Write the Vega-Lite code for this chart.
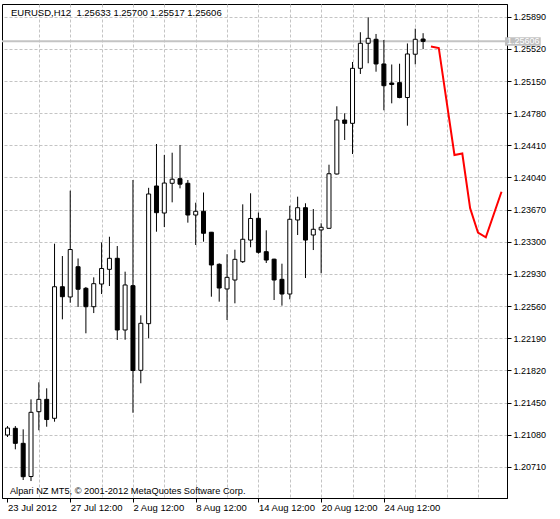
{
  "$schema": "https://vega.github.io/schema/vega-lite/v6.json",
  "width": 505,
  "height": 494,
  "autosize": {"type": "none"},
  "padding": {"left": 2, "top": 4, "right": 53, "bottom": 21},
  "background": "white",
  "config": {
    "view": {"stroke": "#000000", "strokeWidth": 1},
    "font": "Liberation Sans",
    "text": {"font": "Liberation Sans", "fontSize": 10},
    "axis": {
      "title": null,
      "grid": true,
      "gridColor": "#c4c4c4",
      "gridDash": [3, 2],
      "gridWidth": 1,
      "tickColor": "#000000",
      "tickSize": 4,
      "tickWidth": 1,
      "tickCount": 100,
      "domainColor": "#000000",
      "labelFont": "Liberation Sans",
      "labelFontSize": 9.5,
      "labelColor": "#000000",
      "labelOverlap": false,
      "labelBound": false,
      "labelFlush": false,
      "zindex": 0
    }
  },
  "datasets": {
    "candles": [
      {"bar": 0, "open": 1.21077, "high": 1.21180, "low": 1.21054, "close": 1.21157},
      {"bar": 1, "open": 1.21154, "high": 1.21180, "low": 1.20912, "close": 1.20981},
      {"bar": 2, "open": 1.20981, "high": 1.21142, "low": 1.20559, "close": 1.20597},
      {"bar": 3, "open": 1.20599, "high": 1.21487, "low": 1.20547, "close": 1.21338},
      {"bar": 4, "open": 1.21345, "high": 1.21683, "low": 1.21131, "close": 1.21487},
      {"bar": 5, "open": 1.21487, "high": 1.21614, "low": 1.21172, "close": 1.21255},
      {"bar": 6, "open": 1.21269, "high": 1.23278, "low": 1.21230, "close": 1.22783},
      {"bar": 7, "open": 1.22783, "high": 1.23136, "low": 1.22408, "close": 1.22668},
      {"bar": 8, "open": 1.22665, "high": 1.23888, "low": 1.22599, "close": 1.23211},
      {"bar": 9, "open": 1.23013, "high": 1.23108, "low": 1.22550, "close": 1.22754},
      {"bar": 10, "open": 1.22765, "high": 1.22780, "low": 1.22247, "close": 1.22553},
      {"bar": 11, "open": 1.22553, "high": 1.22891, "low": 1.22480, "close": 1.22818},
      {"bar": 12, "open": 1.22814, "high": 1.23292, "low": 1.22699, "close": 1.22993},
      {"bar": 13, "open": 1.22983, "high": 1.23358, "low": 1.22791, "close": 1.23110},
      {"bar": 14, "open": 1.23110, "high": 1.23251, "low": 1.22170, "close": 1.22285},
      {"bar": 15, "open": 1.22285, "high": 1.22956, "low": 1.22173, "close": 1.22803},
      {"bar": 16, "open": 1.22795, "high": 1.24011, "low": 1.21333, "close": 1.21819},
      {"bar": 17, "open": 1.21821, "high": 1.22454, "low": 1.21672, "close": 1.22362},
      {"bar": 18, "open": 1.22358, "high": 1.23921, "low": 1.22189, "close": 1.23850},
      {"bar": 19, "open": 1.23942, "high": 1.24425, "low": 1.23416, "close": 1.23635},
      {"bar": 20, "open": 1.23631, "high": 1.24299, "low": 1.23470, "close": 1.23976},
      {"bar": 21, "open": 1.23973, "high": 1.24325, "low": 1.23754, "close": 1.24020},
      {"bar": 22, "open": 1.24026, "high": 1.24414, "low": 1.23915, "close": 1.23963},
      {"bar": 23, "open": 1.23973, "high": 1.24011, "low": 1.23520, "close": 1.23608},
      {"bar": 24, "open": 1.23608, "high": 1.23750, "low": 1.23263, "close": 1.23651},
      {"bar": 25, "open": 1.23651, "high": 1.23867, "low": 1.23301, "close": 1.23398},
      {"bar": 26, "open": 1.23410, "high": 1.23413, "low": 1.22668, "close": 1.23033},
      {"bar": 27, "open": 1.23041, "high": 1.23052, "low": 1.22611, "close": 1.22768},
      {"bar": 28, "open": 1.22757, "high": 1.23157, "low": 1.22400, "close": 1.22891},
      {"bar": 29, "open": 1.22860, "high": 1.23209, "low": 1.22592, "close": 1.23098},
      {"bar": 30, "open": 1.23071, "high": 1.23731, "low": 1.23056, "close": 1.23329},
      {"bar": 31, "open": 1.23320, "high": 1.23858, "low": 1.23237, "close": 1.23568},
      {"bar": 32, "open": 1.23570, "high": 1.23637, "low": 1.23163, "close": 1.23179},
      {"bar": 33, "open": 1.23186, "high": 1.23432, "low": 1.23056, "close": 1.23090},
      {"bar": 34, "open": 1.23100, "high": 1.23105, "low": 1.22630, "close": 1.22860},
      {"bar": 35, "open": 1.22868, "high": 1.23048, "low": 1.22565, "close": 1.22699},
      {"bar": 36, "open": 1.22699, "high": 1.23714, "low": 1.22638, "close": 1.23559},
      {"bar": 37, "open": 1.23551, "high": 1.23819, "low": 1.23378, "close": 1.23692},
      {"bar": 38, "open": 1.23692, "high": 1.23743, "low": 1.22883, "close": 1.23320},
      {"bar": 39, "open": 1.23378, "high": 1.23677, "low": 1.23205, "close": 1.23444},
      {"bar": 40, "open": 1.23436, "high": 1.23513, "low": 1.22937, "close": 1.23467},
      {"bar": 41, "open": 1.23455, "high": 1.24187, "low": 1.23453, "close": 1.24083},
      {"bar": 42, "open": 1.24080, "high": 1.24859, "low": 1.24074, "close": 1.24701},
      {"bar": 43, "open": 1.24701, "high": 1.24778, "low": 1.24471, "close": 1.24663},
      {"bar": 44, "open": 1.24663, "high": 1.25369, "low": 1.24310, "close": 1.25296},
      {"bar": 45, "open": 1.25296, "high": 1.25711, "low": 1.25231, "close": 1.25584},
      {"bar": 46, "open": 1.25584, "high": 1.25883, "low": 1.25354, "close": 1.25641},
      {"bar": 47, "open": 1.25630, "high": 1.25691, "low": 1.25257, "close": 1.25346},
      {"bar": 48, "open": 1.25346, "high": 1.25622, "low": 1.24813, "close": 1.25096},
      {"bar": 49, "open": 1.25127, "high": 1.25340, "low": 1.24893, "close": 1.25110},
      {"bar": 50, "open": 1.25131, "high": 1.25349, "low": 1.24951, "close": 1.24960},
      {"bar": 51, "open": 1.24960, "high": 1.25582, "low": 1.24636, "close": 1.25461},
      {"bar": 52, "open": 1.25458, "high": 1.25752, "low": 1.25342, "close": 1.25630},
      {"bar": 53, "open": 1.25633, "high": 1.25700, "low": 1.25517, "close": 1.25606}
    ],
    "forecast": [
      {"bar": 54, "price": 1.25547},
      {"bar": 55, "price": 1.25530},
      {"bar": 57, "price": 1.24299},
      {"bar": 58, "price": 1.24316},
      {"bar": 59, "price": 1.23685},
      {"bar": 60, "price": 1.23405},
      {"bar": 61, "price": 1.23352},
      {"bar": 63, "price": 1.23876}
    ],
    "header": [{"label": "EURUSD,H12 \u00a01.25633 1.25700 1.25517 1.25606"}],
    "footer": [{"label": "Alpari NZ MT5, © 2001-2012 MetaQuotes Software Corp."}],
    "last": [{"price": 1.25606, "label": "1.25606"}]
  },
  "layer": [
    {
      "data": {"name": "last"},
      "mark": {"type": "rule", "color": "#c4c4c4", "strokeWidth": 2},
      "encoding": {
        "y": {
          "field": "price",
          "type": "quantitative",
          "scale": {"domain": [1.20352, 1.26036], "zero": false, "nice": false},
          "axis": {"orient": "right", "values": [1.2071, 1.2108, 1.2145, 1.2182, 1.2219, 1.2256, 1.2293, 1.233, 1.2367, 1.2404, 1.2441, 1.2478, 1.2515, 1.2552, 1.2589], "tickCount": 100, "format": ".5f", "labelPadding": 2, "labelFontSize": 9, "labelBaseline": "middle", "labelOverlap": false}
        }
      }
    },
    {
      "data": {"name": "candles"},
      "mark": {"type": "rule", "color": "#000000", "strokeWidth": 1, "clip": true},
      "encoding": {
        "x": {
          "field": "bar",
          "type": "quantitative",
          "scale": {"domain": [-0.0625, 63.0625], "zero": false, "nice": false},
          "axis": {
            "orient": "bottom",
            "values": [0, 4, 8, 12, 16, 20, 24, 28, 32, 36, 40, 44, 48, 52, 56, 60],
            "tickCount": 100,
            "gridOpacity": {"condition": {"test": "datum.value == 0", "value": 0}, "value": 1},
            "tickOpacity": {"condition": {"test": "datum.value % 8 == 0 && datum.value <= 48", "value": 1}, "value": 0},
            "labelExpr": "datum.value == 0 ? '23 Jul 2012' : datum.value == 8 ? '27 Jul 12:00' : datum.value == 16 ? '2 Aug 12:00' : datum.value == 24 ? '8 Aug 12:00' : datum.value == 32 ? '14 Aug 12:00' : datum.value == 40 ? '20 Aug 12:00' : datum.value == 48 ? '24 Aug 12:00' : ''",
            "labelAlign": "left",
            "labelBaseline": "top",
            "labelPadding": 0,
            "labelOverlap": false
          }
        },
        "y": {"field": "low", "type": "quantitative"},
        "y2": {"field": "high"}
      }
    },
    {
      "data": {"name": "candles"},
      "mark": {"type": "bar", "size": 4, "stroke": "#000000", "strokeWidth": 1, "clip": true, "orient": "vertical"},
      "encoding": {
        "x": {"field": "bar", "type": "quantitative"},
        "y": {"field": "open", "type": "quantitative"},
        "y2": {"field": "close"},
        "fill": {"condition": {"test": "datum.close >= datum.open", "value": "#ffffff"}, "value": "#000000"}
      }
    },
    {
      "data": {"name": "forecast"},
      "mark": {"type": "line", "color": "#ff0000", "strokeWidth": 2, "clip": true},
      "encoding": {
        "x": {"field": "bar", "type": "quantitative"},
        "y": {"field": "price", "type": "quantitative"}
      }
    },
    {
      "data": {"name": "header"},
      "mark": {"type": "text", "align": "left", "baseline": "alphabetic", "color": "#000000", "fontSize": 9.5},
      "encoding": {
        "x": {"datum": 0.44},
        "y": {"datum": 1.25898},
        "text": {"field": "label"}
      }
    },
    {
      "data": {"name": "footer"},
      "mark": {"type": "text", "align": "left", "baseline": "alphabetic", "color": "#000000", "fontSize": 9.25},
      "encoding": {
        "x": {"datum": 0.31},
        "y": {"datum": 1.20398},
        "text": {"field": "label"}
      }
    },
    {
      "data": {"name": "last"},
      "mark": {"type": "rect", "color": "#c0c0c0"},
      "encoding": {
        "x": {"datum": 63.44},
        "x2": {"datum": 68.0},
        "y": {"datum": 1.25653},
        "y2": {"datum": 1.25555}
      }
    },
    {
      "data": {"name": "last"},
      "mark": {"type": "text", "align": "left", "baseline": "middle", "color": "#ffffff", "fontSize": 9},
      "encoding": {
        "x": {"datum": 63.7},
        "y": {"field": "price", "type": "quantitative"},
        "text": {"field": "label"}
      }
    }
  ]
}
